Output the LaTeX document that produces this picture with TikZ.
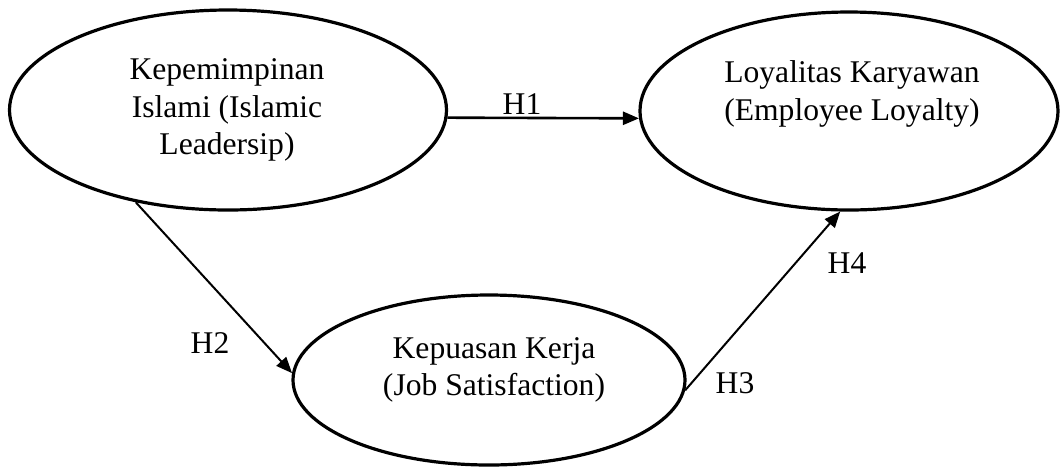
\documentclass[tikz,border=0pt]{standalone}
\usepackage{fontspec}
\setmainfont{Liberation Serif}
\usetikzlibrary{arrows.meta, shapes.geometric}
\tikzset{
    latent/.style={ellipse, draw=black, line width=1.6pt, inner sep=0pt},
    caption/.style={align=center, inner sep=0pt, font=\fontsize{15.8}{18.8}\selectfont},
    hyp/.style={-{Triangle[length=8pt, width=6.5pt]}, line width=1pt, black},
    tag/.style={inner sep=0pt, font=\fontsize{15.8}{18.8}\selectfont}
}
\begin{document}
\begin{tikzpicture}[x=0.5pt, y=-0.5pt]
    \useasboundingbox (0,0) rectangle (1062,468);

    \node[latent, minimum width=218.5pt, minimum height=100pt] (lead) at (228,110) {};
    \node[latent, minimum width=209pt, minimum height=99pt] (loyal) at (849,111) {};
    \node[latent, minimum width=196pt, minimum height=85pt] (sat) at (489,380) {};

    \node[caption] (leadtxt) at (227,110) {Kepemimpinan\\Islami (Islamic\\Leadersip)};
    \node[caption] (loyaltxt) at (852,94) {Loyalitas Karyawan\\(Employee Loyalty)};
    \node[caption] (sattxt) at (494,370) {Kepuasan Kerja\\(Job Satisfaction)};

    \draw[hyp, line width=1.3pt] (lead.-2) -- (loyal.182);
    \draw[hyp] (lead.225) -- (sat.178);
    \draw[hyp] (sat.-3) -- (loyal.265);

    \node[tag] (h1) at (522,104) {H1};
    \node[tag] (h2) at (210,343) {H2};
    \node[tag] (h3) at (735,383) {H3};
    \node[tag] (h4) at (847,263) {H4};
\end{tikzpicture}
\end{document}
